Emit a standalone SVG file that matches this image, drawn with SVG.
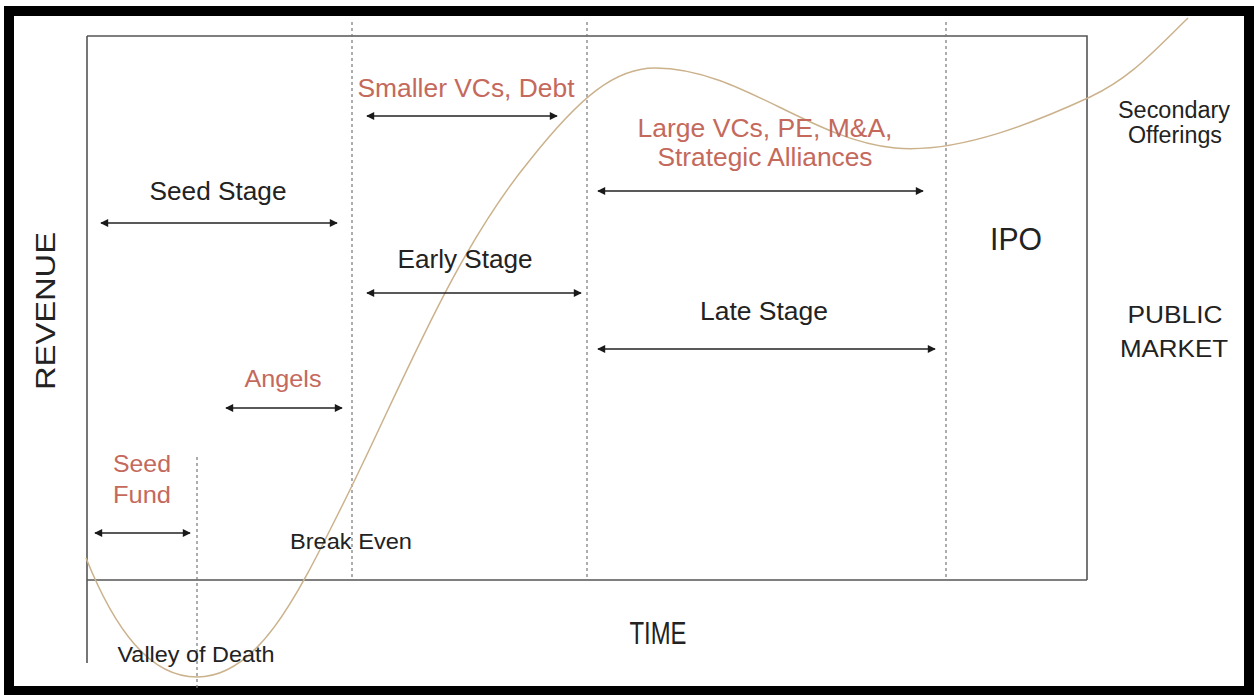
<svg xmlns="http://www.w3.org/2000/svg" width="1254" height="695" viewBox="0 0 1254 695">
<defs>
<marker id="ah" viewBox="0 0 10 10" refX="9" refY="5" markerWidth="9" markerHeight="8" markerUnits="userSpaceOnUse" orient="auto-start-reverse">
<path d="M0,0 L10,5 L0,10 z" fill="#1a1a1a"/>
</marker>
<style>
.t{font-family:"Liberation Sans",Arial,sans-serif;fill:#222;text-anchor:middle}
.r{fill:#c4695c}
.ar{stroke:#222;stroke-width:1.6;fill:none;marker-start:url(#ah);marker-end:url(#ah)}
.dash{stroke:#777;stroke-width:1.2;stroke-dasharray:3 3;fill:none}
.ax{stroke:#555;stroke-width:1.6;fill:none}
</style>
</defs>
<rect x="0" y="0" width="1254" height="695" fill="#fff"/>
<rect x="9" y="11" width="1240" height="680" fill="none" stroke="#000" stroke-width="10"/>
<g id="chart">
<path class="ax" d="M87,36 H1087 V580 M87,36 V663 M87,580 H1087"/>
<path class="dash" d="M352,22 V580 M587,22 V580 M946,22 V580 M197,457 V688"/>
<path d="M86,558 C115,630 150,677 197,677 C260,677 300,590 345,500 C400,390 452,255 530,160 C580,97 615,68 655,68 C740,68 810,140 895,148 C960,154 1040,120 1090,97 C1130,78 1150,55 1188,18" fill="none" stroke="#cbb28c" stroke-width="1.5"/>
</g>
<g id="connectors">
<line class="ar" x1="101" y1="223" x2="337" y2="223"/>
<line class="ar" x1="226" y1="408" x2="342" y2="408"/>
<line class="ar" x1="95" y1="533" x2="190" y2="533"/>
<line class="ar" x1="367" y1="116" x2="557" y2="116"/>
<line class="ar" x1="367" y1="293" x2="581" y2="293"/>
<line class="ar" x1="598" y1="191" x2="923" y2="191"/>
<line class="ar" x1="598" y1="349" x2="935" y2="349"/>
</g>
<g id="axis-labels">
<text class="t" x="45" y="311" font-size="28" textLength="158" lengthAdjust="spacingAndGlyphs" transform="rotate(-90 45 311)" dy="10">REVENUE</text>
<text class="t" x="658" y="644" font-size="32" textLength="57" lengthAdjust="spacingAndGlyphs">TIME</text>
</g>
<g id="seed-stage"><text class="t" x="218" y="200" font-size="25" textLength="137" lengthAdjust="spacingAndGlyphs">Seed Stage</text></g>
<g id="smaller-vcs"><text class="t r" x="466" y="97" font-size="25" textLength="217" lengthAdjust="spacingAndGlyphs">Smaller VCs, Debt</text></g>
<g id="early-stage"><text class="t" x="465" y="268" font-size="25" textLength="135" lengthAdjust="spacingAndGlyphs">Early Stage</text></g>
<g id="large-vcs">
<text class="t r" x="765" y="137" font-size="25" textLength="255" lengthAdjust="spacingAndGlyphs">Large VCs, PE, M&amp;A,</text>
<text class="t r" x="765" y="166" font-size="25" textLength="215" lengthAdjust="spacingAndGlyphs">Strategic Alliances</text>
</g>
<g id="late-stage"><text class="t" x="764" y="320" font-size="25" textLength="128" lengthAdjust="spacingAndGlyphs">Late Stage</text></g>
<g id="ipo"><text class="t" x="1016" y="250" font-size="32" textLength="52" lengthAdjust="spacingAndGlyphs">IPO</text></g>
<g id="public-market">
<text class="t" x="1175" y="323" font-size="24" textLength="95" lengthAdjust="spacingAndGlyphs">PUBLIC</text>
<text class="t" x="1174" y="357" font-size="24" textLength="108" lengthAdjust="spacingAndGlyphs">MARKET</text>
</g>
<g id="secondary">
<text class="t" x="1174" y="118" font-size="23" textLength="112" lengthAdjust="spacingAndGlyphs">Secondary</text>
<text class="t" x="1175" y="143" font-size="23" textLength="94" lengthAdjust="spacingAndGlyphs">Offerings</text>
</g>
<g id="angels"><text class="t r" x="283" y="387" font-size="24" textLength="77" lengthAdjust="spacingAndGlyphs">Angels</text></g>
<g id="seed-fund">
<text class="t r" x="142" y="472" font-size="24" textLength="58" lengthAdjust="spacingAndGlyphs">Seed</text>
<text class="t r" x="142" y="503" font-size="24" textLength="58" lengthAdjust="spacingAndGlyphs">Fund</text>
</g>
<g id="break-even"><text class="t" x="351" y="549" font-size="22" textLength="122" lengthAdjust="spacingAndGlyphs">Break Even</text></g>
<g id="valley"><text class="t" x="196" y="662" font-size="22" textLength="157" lengthAdjust="spacingAndGlyphs">Valley of Death</text></g>
</svg>
